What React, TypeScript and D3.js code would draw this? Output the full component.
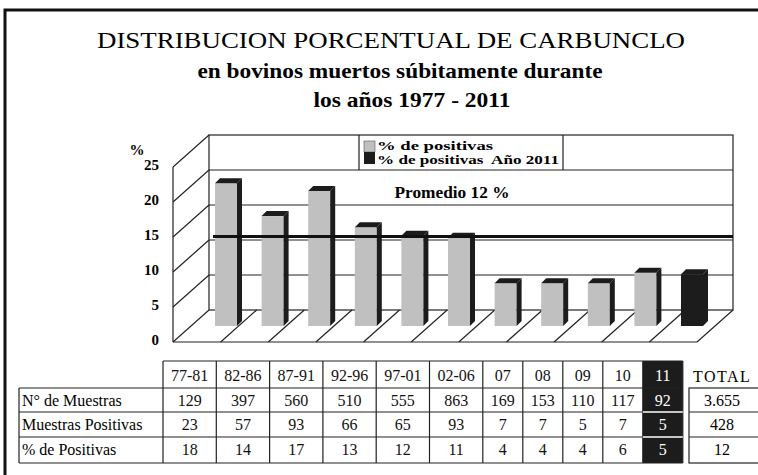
import * as d3 from 'd3';

// bar heights as they stand in the picture (%)
const categories = ['77-81', '82-86', '87-91', '92-96', '97-01', '02-06', '07', '08', '09', '10', '11'];
const barValues = [20.4, 15.7, 19.3, 14.1, 12.9, 12.6, 6.1, 6.1, 6.1, 7.6, 7.4];
const highlight = '11';

// table rows
const rowLabels = ['N° de Muestras', 'Muestras Positivas', '% de Positivas'];
const muestras = ['129', '397', '560', '510', '555', '863', '169', '153', '110', '117', '92'];
const positivas = ['23', '57', '93', '66', '65', '93', '7', '7', '5', '7', '5'];
const porcentajes = ['18', '14', '17', '13', '12', '11', '4', '4', '4', '6', '5'];
const totals = ['3.655', '428', '12'];

const yTicks = [0, 5, 10, 15, 20, 25];
const promedio = 12.8;
const promedioLabel = 'Promedio 12 %';
const legendLabels = ['% de positivas', '% de positivas  Año 2011'];

const W = 758;
const H = 475;
const serif = '"Liberation Serif", "Times New Roman", serif';
const gray = '#c0c0c0';
const dark = '#1c1c1c';

export default function App() {
  // 3d box: front plane + depth offset
  const dx = 36;
  const dy = -32;
  const y = d3.scaleLinear().domain([0, 25]).range([342, 167]);
  const floor = d3.scaleBand().domain(categories).range([173, 697]);
  const xc = d3.scalePoint().domain(categories).range([208, 674]);
  const bw = 22;
  const d = 5;

  const x0 = floor.range()[0];
  const x1 = floor.range()[1];
  const y0 = y(0);
  const yTop = y(25);

  // table layout
  const colW = categories.map(c => (c.length > 2 ? 53.3 : 40));
  const colX = [163];
  colW.forEach((w, i) => colX.push(colX[i] + w));
  const rowY = [361, 388, 412, 437, 463];
  const rows = [muestras, positivas, porcentajes];
  const tableRight = colX[colX.length - 1];
  const hiIdx = categories.indexOf(highlight);

  const line = '#222';

  return (
    <svg
      width={W}
      height={H}
      style={{ position: 'absolute', left: 0, top: 0, background: '#fff' }}
      fontFamily={serif}
    >
      <rect x={5} y={10} width={W + 20} height={H + 20} fill="none" stroke="#111" strokeWidth={3} />

      <text x={391} y={48} textAnchor="middle" fontSize={24} textLength={588} lengthAdjust="spacingAndGlyphs">
        DISTRIBUCION PORCENTUAL DE CARBUNCLO
      </text>
      <text x={400} y={78} textAnchor="middle" fontSize={21} fontWeight="bold" textLength={405} lengthAdjust="spacingAndGlyphs">
        en bovinos muertos súbitamente durante
      </text>
      <text x={412} y={107} textAnchor="middle" fontSize={21} fontWeight="bold" textLength={197} lengthAdjust="spacingAndGlyphs">
        los años 1977 - 2011
      </text>

      {/* back wall */}
      <rect x={x0 + dx} y={yTop + dy} width={x1 - x0} height={y0 - yTop} fill="none" stroke={line} strokeWidth={1.2} />
      {yTicks.slice(1, -1).map(t => (
        <line key={t} x1={x0 + dx} x2={x1 + dx} y1={y(t) + dy} y2={y(t) + dy} stroke={line} strokeWidth={1.2} />
      ))}
      {/* left wall */}
      <line x1={x0} x2={x0} y1={y0} y2={yTop} stroke={line} strokeWidth={1.2} />
      {yTicks.map(t => (
        <line key={t} x1={x0} x2={x0 + dx} y1={y(t)} y2={y(t) + dy} stroke={line} strokeWidth={1.2} />
      ))}
      {yTicks.map(t => (
        <text key={t} x={159} y={y(t) + 3} textAnchor="end" fontSize={15} fontWeight="bold">
          {t}
        </text>
      ))}
      <text x={137} y={155} textAnchor="middle" fontSize={15} fontWeight="bold">%</text>

      {/* floor */}
      <line x1={x0} x2={x1} y1={y0} y2={y0} stroke={line} strokeWidth={1.2} />
      {categories.map(c => (
        <line key={c} x1={floor(c)! + floor.bandwidth()} x2={floor(c)! + floor.bandwidth() + dx} y1={y0} y2={y0 + dy} stroke={line} strokeWidth={1.2} />
      ))}

      {/* legend */}
      <line x1={359} x2={359} y1={yTop + dy} y2={y(20) + dy} stroke={line} strokeWidth={1.2} />
      <line x1={563} x2={563} y1={yTop + dy} y2={y(20) + dy} stroke={line} strokeWidth={1.2} />
      <rect x={364} y={141} width={11} height={11} fill={gray} stroke="#555" strokeWidth={0.6} />
      <rect x={364} y={152} width={11} height={12} fill={dark} />
      {legendLabels.map((l, i) => (
        <text
          key={l}
          x={377}
          y={150 + i * 13.5}
          fontSize={11.5}
          fontWeight="bold"
          textLength={i === 0 ? 116 : 182}
          lengthAdjust="spacingAndGlyphs"
          style={{ whiteSpace: 'pre' }}
        >
          {l}
        </text>
      ))}

      {/* bars */}
      {categories.map((c, i) => {
        const bx = xc(c)! + dx / 2 - bw / 2;
        const bb = y(0) + dy / 2;
        const bt = y(barValues[i]) + dy / 2;
        const hi = c === highlight;
        return (
          <g key={c}>
            <rect x={bx} y={bt} width={bw} height={bb - bt} fill={hi ? dark : gray} />
            <polygon
              points={`${bx},${bt} ${bx + d},${bt - d} ${bx + bw + d},${bt - d} ${bx + bw},${bt}`}
              fill={dark}
            />
            <polygon
              points={`${bx + bw},${bt} ${bx + bw + d},${bt - d} ${bx + bw + d},${bb - d} ${bx + bw},${bb}`}
              fill={dark}
            />
          </g>
        );
      })}

      {/* average line */}
      <line
        x1={xc(categories[0])! + dx / 2 - bw / 2 - 2}
        x2={x1 + dx}
        y1={y(promedio) + dy / 2}
        y2={y(promedio) + dy / 2}
        stroke="#111"
        strokeWidth={3}
      />
      <text x={452} y={198} textAnchor="middle" fontSize={16} fontWeight="bold" textLength={115} lengthAdjust="spacingAndGlyphs">
        {promedioLabel}
      </text>

      {/* table */}
      {categories.map((c, i) => {
        const hi = c === highlight;
        return (
          <g key={c}>
            {hi && <rect x={colX[i]} y={rowY[0]} width={colW[i]} height={rowY[4] - rowY[0]} fill={dark} />}
            <text x={colX[i] + colW[i] / 2} y={rowY[0] + 20} textAnchor="middle" fontSize={16} fill={hi ? '#fff' : '#111'}>
              {c}
            </text>
            {rows.map((r, j) => (
              <text key={j} x={colX[i] + colW[i] / 2} y={rowY[j + 1] + 18} textAnchor="middle" fontSize={16} fill={hi ? '#fff' : '#111'}>
                {r[i]}
              </text>
            ))}
          </g>
        );
      })}
      {colX.map((cx, i) => (
        <line key={i} x1={cx} x2={cx} y1={rowY[0]} y2={rowY[4]} stroke={line} strokeWidth={1.2} />
      ))}
      <line x1={19} x2={19} y1={rowY[1]} y2={rowY[4]} stroke={line} strokeWidth={1.2} />
      <line x1={colX[0]} x2={tableRight} y1={rowY[0]} y2={rowY[0]} stroke={line} strokeWidth={1.2} />
      {rowY.slice(1).map((ry, j) => (
        <line key={j} x1={19} x2={tableRight} y1={ry} y2={ry} stroke={line} strokeWidth={1.2} />
      ))}
      {rowY.slice(2, 4).map((ry, j) => (
        <line key={j} x1={colX[hiIdx]} x2={colX[hiIdx + 1]} y1={ry} y2={ry} stroke="#fff" strokeWidth={1.5} />
      ))}
      {rowLabels.map((l, j) => (
        <text key={l} x={22} y={rowY[j + 1] + 18} fontSize={16}>
          {l}
        </text>
      ))}

      {/* totals */}
      <text x={693} y={rowY[0] + 21} fontSize={16} letterSpacing={1.5}>TOTAL</text>
      <rect x={689} y={rowY[1]} width={W} height={rowY[4] - rowY[1]} fill="none" stroke={line} strokeWidth={1.2} />
      {rowY.slice(2, 4).map((ry, j) => (
        <line key={j} x1={689} x2={W} y1={ry} y2={ry} stroke={line} strokeWidth={1.2} />
      ))}
      {totals.map((t, j) => (
        <text key={t} x={722} y={rowY[j + 1] + 18} textAnchor="middle" fontSize={16}>
          {t}
        </text>
      ))}
    </svg>
  );
}
